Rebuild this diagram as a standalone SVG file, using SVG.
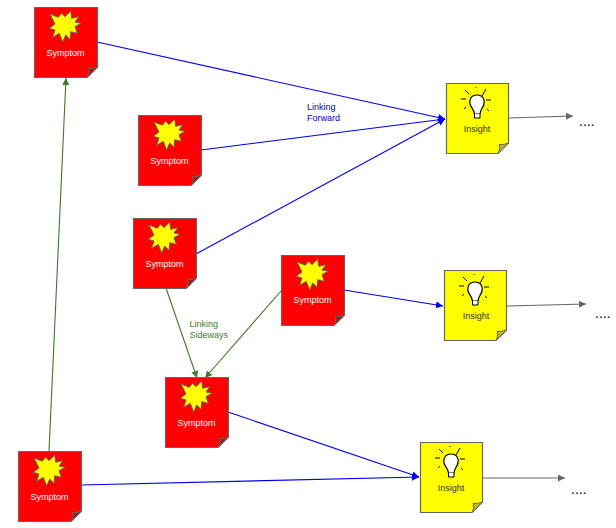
<svg xmlns="http://www.w3.org/2000/svg" width="616" height="528" viewBox="0 0 616 528">
<style>
.lbl{font-family:"Liberation Sans",Arial,sans-serif;font-size:9px}
.s{fill:#fff;text-anchor:middle}
.i{fill:#333;text-anchor:middle}
.b{stroke:#0000ee;stroke-width:1.1;fill:none;marker-end:url(#ab)}
.g{stroke:#3f7a2a;stroke-width:1.1;fill:none;marker-end:url(#ag)}
.k{stroke:#666;stroke-width:1.1;fill:none;marker-end:url(#ak)}
.dots{font-family:"Liberation Sans",Arial,sans-serif;font-size:14px;fill:#000}
</style>
<defs>
<marker id="ab" markerWidth="8" markerHeight="8" refX="7" refY="3.5" orient="auto" markerUnits="userSpaceOnUse"><path d="M0 0L7 3.5L0 7Z" fill="#0000ee"/></marker>
<marker id="ag" markerWidth="8" markerHeight="8" refX="7" refY="3.5" orient="auto" markerUnits="userSpaceOnUse"><path d="M0 0L7 3.5L0 7Z" fill="#3f7a2a"/></marker>
<marker id="ak" markerWidth="8" markerHeight="8" refX="7" refY="3.5" orient="auto" markerUnits="userSpaceOnUse"><path d="M0 0L7 3.5L0 7Z" fill="#666"/></marker>
<g id="sym">
<path d="M0.500 0.500H63.500V60L53 70.500H0.500Z" fill="#f00" stroke="#666" stroke-width="1.200"/>
<path d="M63.500 60L53 70.500Q56 64 54.500 61.500Q59 62 63.500 60Z" fill="#a01818" stroke="#666" stroke-width="1"/>
<path d="M16 7L24.300 10.300L27.700 6.300L31 9.700L36.700 4L37.700 11.300L44.700 9.700L41 15L47 16.300L41 19.700L43.300 26.300L36.700 24.700L36 32.300L31.700 28L28.700 35L25.300 26.300L18.700 30.300L21 23L15.300 21.300L21 17Z" fill="#ff0" stroke="#666" stroke-width="1"/>
</g>
<g id="ins">
<path d="M0.500 0.500H62.500V60L52 70.500H0.500Z" fill="#ff0" stroke="#666" stroke-width="1.200"/>
<path d="M62.500 60L52 70.500Q55 64 53 61.500Q58 62 62.500 60Z" fill="#c8b820" stroke="#666" stroke-width="1"/>
<path d="M31 12C25 12 23 17 24 21C25 25 28 26 28.500 31H34C34.500 26 37 25 38 21C39 17 37 12 31 12Z" fill="#fff" stroke="#000" stroke-width="1.200"/>
<path d="M28.500 31V35H34V31" fill="#fff" stroke="#000" stroke-width="1"/>
<path d="M19 7L23 11M40 6L36 13M15 16H20M40 17H45M18 26L20 24M41 26L43 28M30 4V5" stroke="#000" stroke-width="1" fill="none"/>
</g>
</defs>
<g id="connectors">
<path class="g" d="M49 451L66 78"/>
<path class="b" d="M97 42L445 119"/>
<path class="b" d="M201 150L445 119"/>
<path class="b" d="M196 254L445 119"/>
<path class="g" d="M166 288L197 378"/>
<path class="g" d="M281 291L205 378"/>
<path class="b" d="M344 290L443 306"/>
<path class="b" d="M228 412L419 477"/>
<path class="b" d="M81 485L419 477"/>
<path class="k" d="M508 118L573 116"/>
<path class="k" d="M507 306L586 304"/>
<path class="k" d="M483 478L565 478"/>
</g>
<g id="s1"><use href="#sym" x="34" y="7"/><text class="lbl s" x="65.500" y="56">Symptom</text></g>
<g id="s2"><use href="#sym" x="138" y="115"/><text class="lbl s" x="169.500" y="164">Symptom</text></g>
<g id="s3"><use href="#sym" x="133" y="218"/><text class="lbl s" x="164.500" y="267">Symptom</text></g>
<g id="s4"><use href="#sym" x="281" y="255"/><text class="lbl s" x="312.500" y="303">Symptom</text></g>
<g id="s5"><use href="#sym" x="165" y="377"/><text class="lbl s" x="196.500" y="426">Symptom</text></g>
<g id="s6"><use href="#sym" x="18" y="451"/><text class="lbl s" x="49.500" y="500">Symptom</text></g>
<g id="i1"><use href="#ins" x="446" y="83"/><text class="lbl i" x="477" y="132">Insight</text></g>
<g id="i2"><use href="#ins" x="444" y="270"/><text class="lbl i" x="476" y="319">Insight</text></g>
<g id="i3"><use href="#ins" x="420" y="442"/><text class="lbl i" x="451" y="491">Insight</text></g>
<text class="lbl" x="307" y="110" fill="#0000cc">Linking</text>
<text class="lbl" x="307" y="121" fill="#0000cc">Forward</text>
<text class="lbl" x="189.500" y="327" fill="#3f7a2a">Linking</text>
<text class="lbl" x="189.500" y="338" fill="#3f7a2a">Sideways</text>
<text class="dots" x="579" y="126">....</text>
<text class="dots" x="595" y="318">....</text>
<text class="dots" x="571" y="494">....</text>
</svg>
